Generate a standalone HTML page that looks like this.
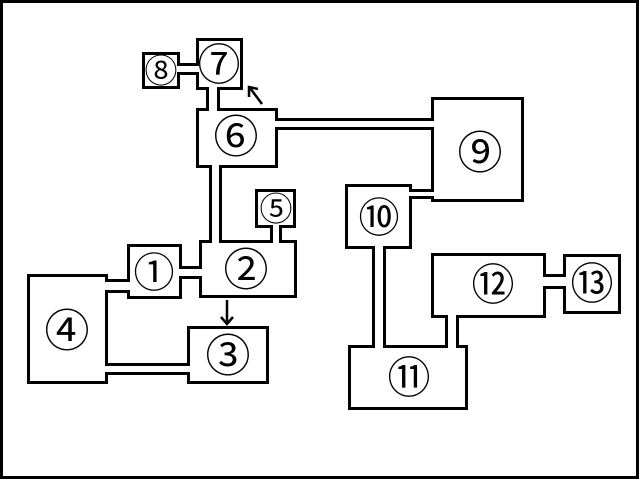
<!DOCTYPE html>
<html><head><meta charset="utf-8"><style>
html,body{margin:0;padding:0;background:#fff;}
svg{display:block;}
text{font-family:"Liberation Sans","Noto Sans CJK JP",sans-serif;fill:#000;}
</style></head><body>
<svg width="640" height="480" viewBox="0 0 640 480" xmlns="http://www.w3.org/2000/svg">
<rect x="1.5" y="1.5" width="636" height="476" fill="#fff" stroke="#000" stroke-width="3"/>
<g fill="#000">
<rect x="179" y="63" width="19" height="12"/>
<rect x="206" y="88" width="14" height="21"/>
<rect x="276" y="118" width="157" height="12"/>
<rect x="209" y="166" width="13" height="76"/>
<rect x="270" y="227" width="12" height="15"/>
<rect x="181" y="266" width="19" height="13"/>
<rect x="107" y="279" width="21" height="14"/>
<rect x="107" y="363" width="82" height="12"/>
<rect x="411" y="189" width="21" height="10"/>
<rect x="372" y="247" width="14" height="99"/>
<rect x="445" y="317" width="14" height="29"/>
<rect x="544" y="274" width="20" height="15"/>
</g>
<g fill="#fff" stroke="#000" stroke-width="3">
<rect x="197.5" y="39.5" width="44" height="49"/>
<rect x="143.5" y="53.5" width="35" height="34"/>
<rect x="197.5" y="109.5" width="79" height="57"/>
<rect x="256.5" y="190.5" width="38" height="36"/>
<rect x="200.5" y="241.5" width="95" height="55"/>
<rect x="128.5" y="245.5" width="52" height="52"/>
<rect x="28.5" y="275.5" width="78" height="107"/>
<rect x="188.5" y="327.5" width="79" height="55"/>
<rect x="432.5" y="98.5" width="90" height="102"/>
<rect x="346.5" y="185.5" width="64" height="62"/>
<rect x="349.5" y="346.5" width="117" height="62"/>
<rect x="432.5" y="254.5" width="112" height="62"/>
<rect x="564.5" y="255.5" width="55" height="57"/>
</g>
<g fill="#fff">
<rect x="176" y="66" width="25" height="6"/>
<rect x="209" y="85" width="8" height="27"/>
<rect x="273" y="121" width="163" height="6"/>
<rect x="212" y="163" width="7" height="82"/>
<rect x="273" y="224" width="6" height="21"/>
<rect x="178" y="269" width="25" height="7"/>
<rect x="104" y="282" width="27" height="8"/>
<rect x="104" y="366" width="88" height="6"/>
<rect x="408" y="192" width="27" height="4"/>
<rect x="375" y="244" width="8" height="105"/>
<rect x="448" y="314" width="8" height="35"/>
<rect x="541" y="277" width="26" height="9"/>
</g>
<g stroke="#000" stroke-width="2.5" fill="none">
<line x1="227" y1="300" x2="227" y2="324"/>
<polyline points="221,317 227,324 233,317"/>
<line x1="262" y1="104" x2="250" y2="88"/>
<polyline points="249,97 249,87 258,89"/>
</g>
<g text-anchor="middle" dominant-baseline="central">
<text x="219" y="66" font-size="43">⑦</text>
<text x="161" y="71" font-size="33">⑧</text>
<text x="236" y="137" font-size="45">⑥</text>
<text x="276" y="209" font-size="33">⑤</text>
<text x="246" y="270" font-size="45">②</text>
<text x="154" y="273" font-size="41">①</text>
<text x="67" y="331" font-size="45">④</text>
<text x="228" y="356" font-size="45">③</text>
<text x="480" y="153" font-size="45">⑨</text>
<text x="379" y="218" font-size="41">⑩</text>
<text x="409" y="379" font-size="43">⑪</text>
<text x="493" y="286" font-size="43">⑫</text>
<text x="592" y="285" font-size="43">⑬</text>
</g>
</svg>
</body></html>
